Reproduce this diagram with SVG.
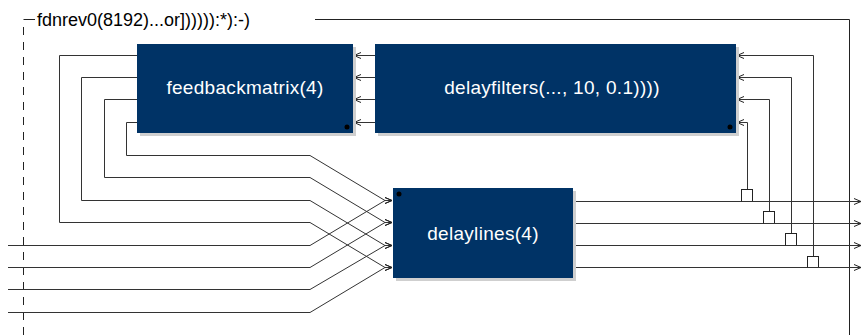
<svg xmlns="http://www.w3.org/2000/svg" width="862" height="335" viewBox="0 0 862 335">
<style>
.box{fill:#003366}
.shadow{fill:#cfcfcf}
.lbl{fill:#ffffff;font-family:"Liberation Sans",Arial,sans-serif;font-size:19px;letter-spacing:0.3px;text-anchor:middle}
.title{fill:#000000;font-family:"Liberation Sans",Arial,sans-serif;font-size:18px}
.w{fill:none;stroke:#333333;stroke-width:1}
.wa{fill:none;stroke:#333333;stroke-width:1;marker-end:url(#arr)}
.frame{fill:none;stroke:#222222;stroke-width:1}
.dot{fill:#000000}
.tap{fill:#ffffff;stroke:#222222;stroke-width:1}
</style>
<defs>
<marker id="arr" markerUnits="userSpaceOnUse" viewBox="-8 -4 9 8" refX="0" refY="0" markerWidth="9" markerHeight="8" orient="auto">
<path d="M-7,-3 L0,0 L-7,3" fill="none" stroke="#222222" stroke-width="1"/>
</marker>
</defs>

<g id="frame">
<path class="frame" d="M23.5,335 V20" stroke-dasharray="8,7"/>
<path class="frame" d="M23.5,19.5 H35"/>
<path class="frame" d="M315,19.5 H849.5 V335" stroke="#333"/>
<text class="title" x="37" y="26">fdnrev0(8192)...or]))))):*):-)</text>
</g>

<g id="connectors">
<!-- delayfilters -> feedbackmatrix -->
<path class="wa" d="M375,55.5 H354"/>
<path class="wa" d="M375,77.5 H354"/>
<path class="wa" d="M375,99.5 H354"/>
<path class="wa" d="M375,122.5 H354"/>
<!-- feedbackmatrix outputs -> delaylines -->
<path class="wa" d="M137,122.5 H126.5 V155.5 H310 L385,200.5 H392"/>
<path class="wa" d="M137,99.5 H104.5 V177.5 H310 L385,222.5 H392"/>
<path class="wa" d="M137,77.5 H81.5 V200.5 H310 L385,245.5 H392"/>
<path class="wa" d="M137,55.5 H59.5 V222.5 H310 L385,267.5 H392"/>
<!-- external inputs -->
<path class="wa" d="M8,245.5 H310 L385,200.5 H392"/>
<path class="wa" d="M8,267.5 H310 L385,222.5 H392"/>
<path class="wa" d="M8,289.5 H310 L385,245.5 H392"/>
<path class="wa" d="M8,312.5 H310 L385,267.5 H392"/>
<!-- delaylines outputs -->
<path class="wa" d="M573,201.5 H861"/>
<path class="wa" d="M573,223.5 H861"/>
<path class="wa" d="M573,245.5 H861"/>
<path class="wa" d="M573,267.5 H861"/>
<!-- feedback taps -> delayfilters -->
<path class="wa" d="M747.5,189 V122.5 H737"/>
<path class="wa" d="M769.5,211 V99.5 H737"/>
<path class="wa" d="M791.5,233 V77.5 H737"/>
<path class="wa" d="M813.5,256 V55.5 H737"/>
<rect class="tap" x="741.5" y="189.5" width="11" height="12"/>
<rect class="tap" x="763.5" y="211.5" width="11" height="12"/>
<rect class="tap" x="785.5" y="233.5" width="11" height="12"/>
<rect class="tap" x="807.5" y="256.5" width="11" height="11"/>
<path class="w" d="M741.5,201.5 H753 M763.5,223.5 H775 M785.5,245.5 H797 M807.5,267.5 H819"/>
</g>

<g id="feedbackmatrix">
<rect class="shadow" x="140" y="47" width="216" height="89"/>
<rect class="box" x="137" y="44" width="216" height="89"/>
<circle class="dot" cx="347" cy="127" r="2.5"/>
<text class="lbl" x="245" y="94">feedbackmatrix(4)</text>
</g>

<g id="delayfilters">
<rect class="shadow" x="378" y="47" width="361" height="89"/>
<rect class="box" x="375" y="44" width="361" height="89"/>
<circle class="dot" cx="730" cy="127" r="2.5"/>
<text class="lbl" x="552" y="94">delayfilters(..., 10, 0.1))))</text>
</g>

<g id="delaylines">
<rect class="shadow" x="396" y="191" width="180" height="90"/>
<rect class="box" x="393" y="188" width="180" height="90"/>
<circle class="dot" cx="399" cy="194" r="2.5"/>
<text class="lbl" x="483" y="240">delaylines(4)</text>
</g>
</svg>
